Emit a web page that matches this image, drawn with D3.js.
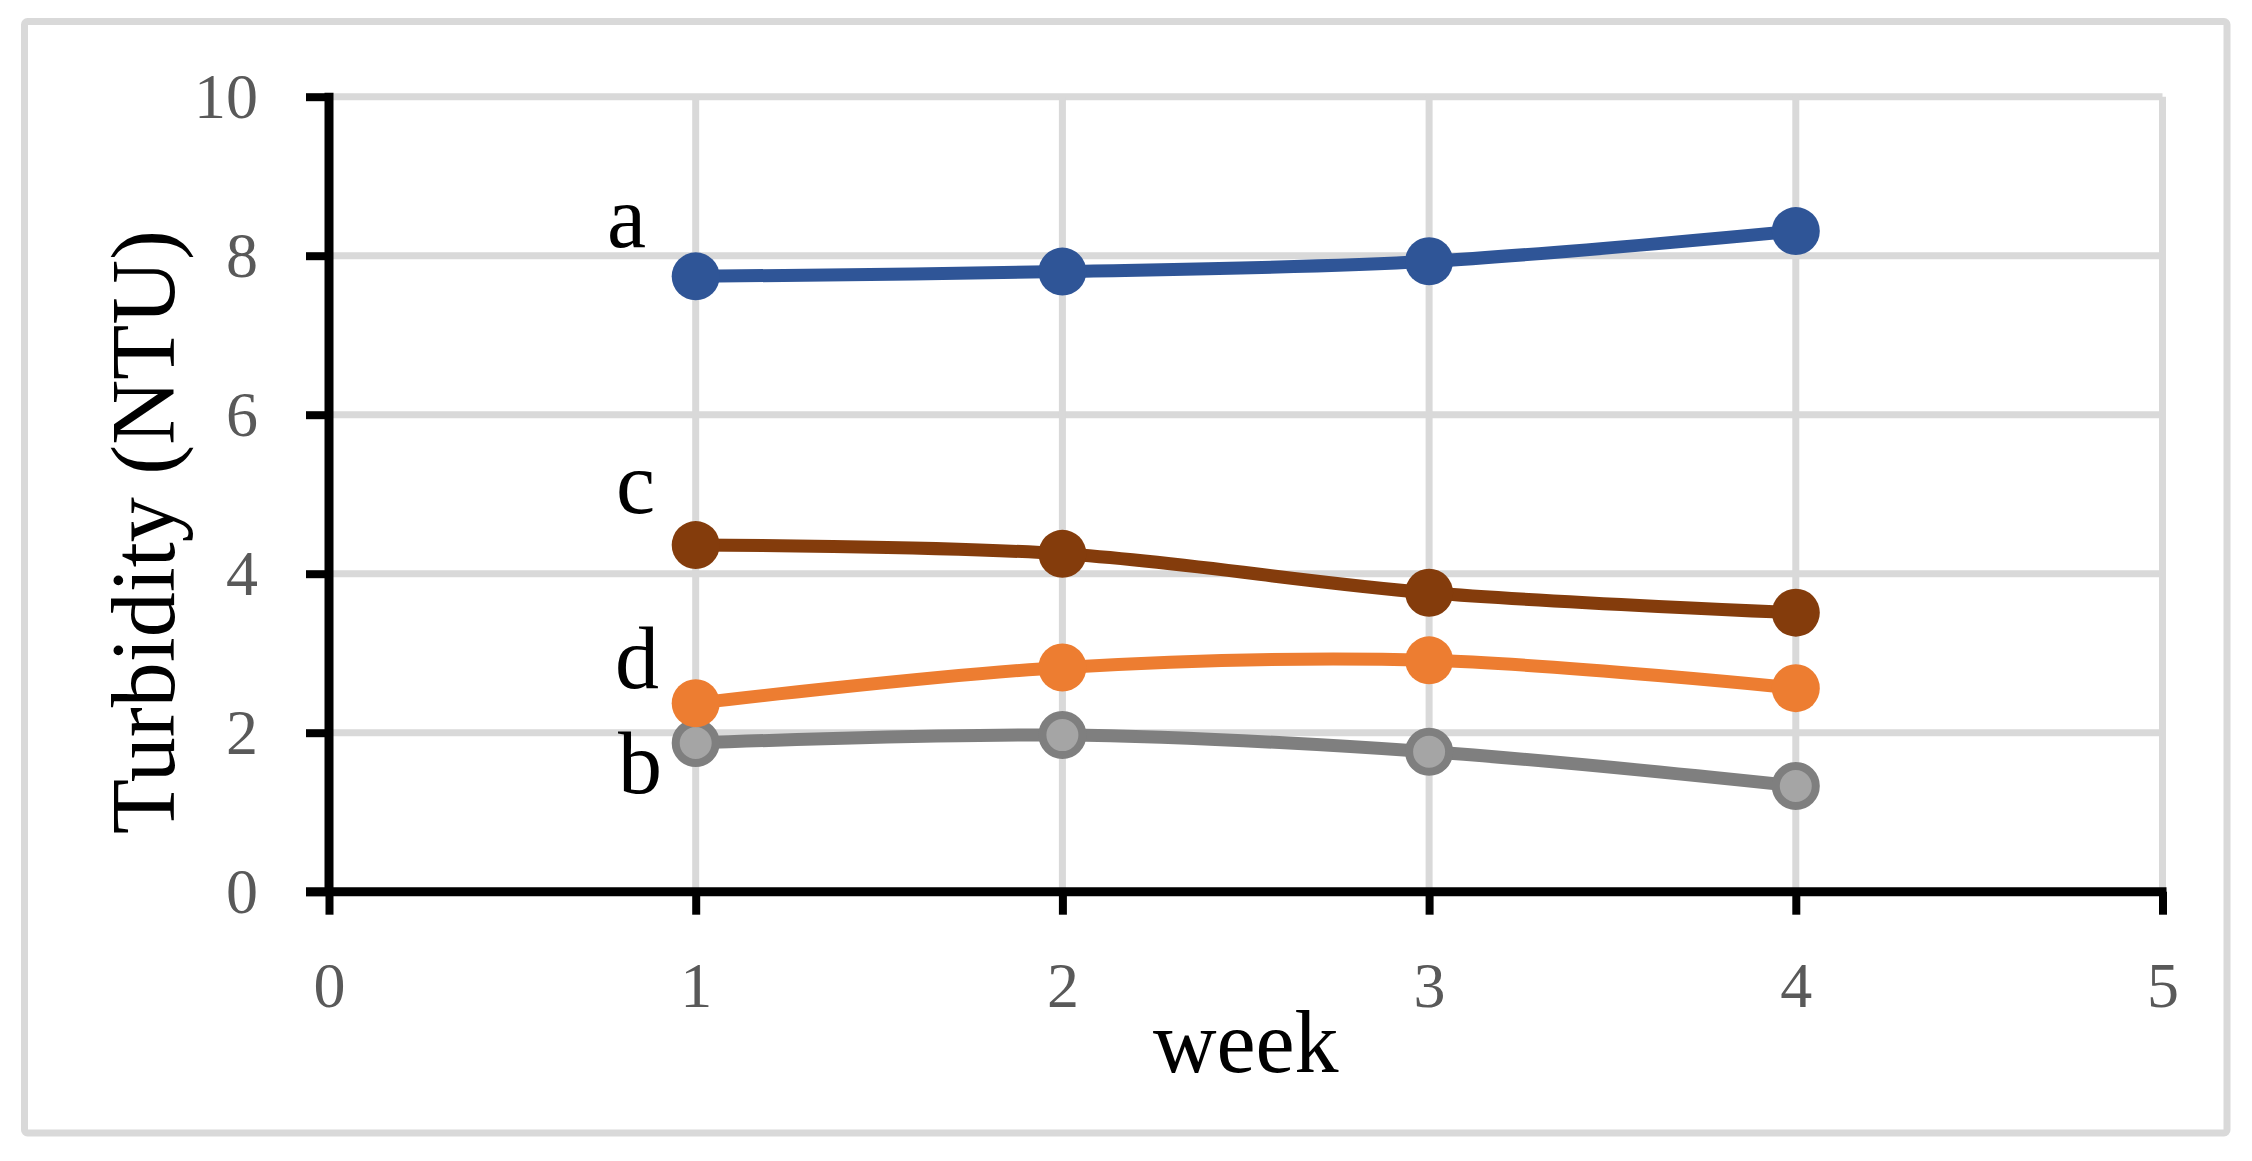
<!DOCTYPE html>
<html>
<head>
<meta charset="utf-8">
<script src="https://cdn.jsdelivr.net/npm/d3@7"></script>
<style>
  html, body { margin: 0; padding: 0; background: #ffffff; }
  svg { display: block; }
</style>
</head>
<body>
<svg id="chart" width="2252" height="1161"></svg>
<script>
// ---- data ----
const weeks = [1, 2, 3, 4];
const seriesNames = ["a", "b", "c", "d"];
const valuesA = [7.74, 7.80, 7.93, 8.31];
const valuesB = [1.87, 1.97, 1.76, 1.33];
const valuesC = [4.36, 4.25, 3.76, 3.51];
const valuesD = [2.37, 2.82, 2.91, 2.56];
const xTicks = [0, 1, 2, 3, 4, 5];
const yTicks = [0, 2, 4, 6, 8, 10];
const xTitle = "week";
const yTitle = "Turbidity (NTU)";

// ---- styles ----
const colors = { a: "#2f5597", b: "#7f7f7f", c: "#843c0c", d: "#ed7d31" };
const fills  = { a: "#2f5597", b: "#a5a5a5", c: "#843c0c", d: "#ed7d31" };
const labelPos = { a: [607, 247], b: [618, 793], c: [616, 513], d: [615, 688] };

const series = [
  { name: "a", values: valuesA },
  { name: "b", values: valuesB },
  { name: "c", values: valuesC },
  { name: "d", values: valuesD }
];

const svg = d3.select("#chart");
const font = "'Liberation Serif', 'Times New Roman', serif";

// outer border
svg.append("rect")
  .attr("x", 24.5).attr("y", 21.5)
  .attr("width", 2227 - 24.5).attr("height", 1133 - 21.5)
  .attr("rx", 3)
  .attr("fill", "#ffffff")
  .attr("stroke", "#d9d9d9").attr("stroke-width", 7);

const pLeft = 329, pRight = 2162.5, pTop = 96.7, pBottom = 891.7;
const x = d3.scaleLinear().domain([0, 5]).range([pLeft, pRight]);
const y = d3.scaleLinear().domain([0, 10]).range([pBottom, pTop]);

// gridlines
const grid = svg.append("g");
grid.selectAll("line.h").data(yTicks.filter(d => d > 0)).enter().append("line")
  .attr("class", "h")
  .attr("x1", pLeft).attr("x2", pRight)
  .attr("y1", d => y(d)).attr("y2", d => y(d))
  .attr("stroke", "#d9d9d9").attr("stroke-width", 7);
grid.selectAll("line.v").data(xTicks.filter(d => d > 0)).enter().append("line")
  .attr("class", "v")
  .attr("x1", d => x(d)).attr("x2", d => x(d))
  .attr("y1", pTop).attr("y2", pBottom)
  .attr("stroke", "#d9d9d9").attr("stroke-width", 7);

// axes
const yAxis = d3.axisLeft(y).tickValues(yTicks).tickFormat(d3.format("d"))
  .tickSize(23).tickSizeOuter(0).tickPadding(48);
const xAxis = d3.axisBottom(x).tickValues(xTicks).tickFormat(d3.format("d"))
  .tickSize(23).tickSizeOuter(0);

const gy = svg.append("g").attr("transform", `translate(${pLeft},0)`).call(yAxis);
const gx = svg.append("g").attr("transform", `translate(0,${pBottom})`).call(xAxis);

[gx, gy].forEach(g => {
  g.select(".domain").attr("stroke", "#000").attr("stroke-width", 9);
  g.selectAll(".tick line").attr("stroke", "#000").attr("stroke-width", 8);
  g.selectAll(".tick text")
    .attr("fill", "#595959")
    .style("font-family", font)
    .style("font-size", "64px");
});
gx.select(".domain").attr("d", `M${pLeft - 23},0H${pRight + 4}`);
gy.select(".domain").attr("d", `M0,${pTop - 4}V${pBottom}`);
gx.selectAll(".tick text").attr("y", 115).attr("dy", 0);

// lines
const line = d3.line()
  .x((d, i) => x(weeks[i]))
  .y(d => y(d))
  .curve(d3.curveCatmullRom.alpha(0.5));

const sg = svg.selectAll("g.series").data(series).enter().append("g").attr("class", "series");
sg.append("path")
  .attr("d", d => line(d.values))
  .attr("fill", "none")
  .attr("stroke", d => colors[d.name])
  .attr("stroke-width", 13)
  .attr("stroke-linejoin", "round");
sg.each(function(s) {
  const g = d3.select(this);
  g.selectAll("circle").data(s.values).enter().append("circle")
    .attr("cx", (d, i) => x(weeks[i]))
    .attr("cy", d => y(d))
    .attr("r", s.name === "b" ? 20 : 24)
    .attr("fill", fills[s.name])
    .attr("stroke", s.name === "b" ? colors[s.name] : "none")
    .attr("stroke-width", s.name === "b" ? 8 : 0);
});

// series labels
svg.selectAll("text.slabel").data(seriesNames).enter().append("text")
  .attr("class", "slabel")
  .attr("x", d => labelPos[d][0])
  .attr("y", d => labelPos[d][1])
  .attr("fill", "#000")
  .style("font-family", font)
  .style("font-size", "88px")
  .text(d => d);

// axis titles
svg.append("text")
  .attr("x", (pLeft + pRight) / 2).attr("y", 1072)
  .attr("text-anchor", "middle")
  .attr("fill", "#000")
  .style("font-family", font).style("font-size", "88px")
  .text(xTitle);

svg.append("text")
  .attr("transform", `translate(174,532) rotate(-90)`)
  .attr("text-anchor", "middle")
  .attr("fill", "#000")
  .style("font-family", font).style("font-size", "90px")
  .text(yTitle);
</script>
</body>
</html>
